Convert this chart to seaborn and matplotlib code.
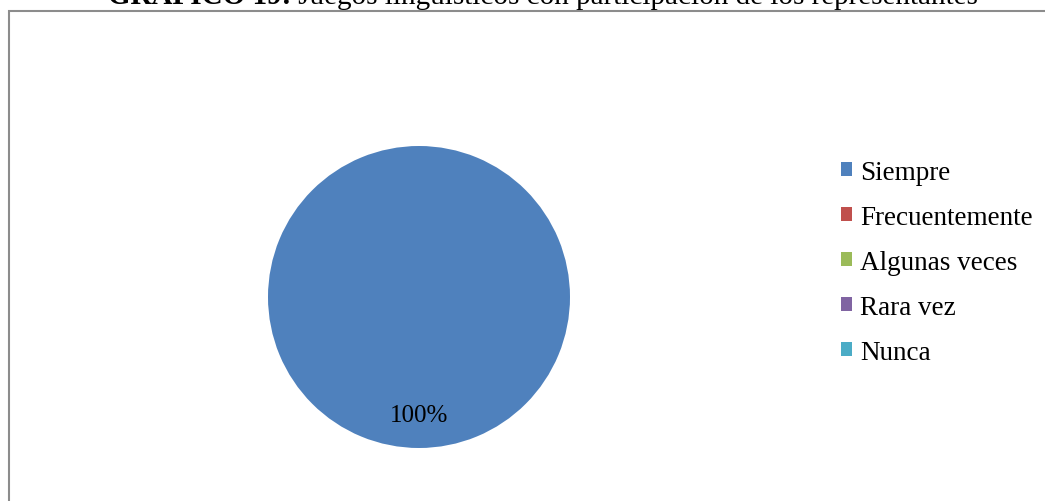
import matplotlib
matplotlib.use('Agg')
import matplotlib.pyplot as plt
import matplotlib.patches as mpatches
import seaborn as sns

# Data
categories = ['Siempre', 'Frecuentemente', 'Algunas veces', 'Rara vez', 'Nunca']
values = [100, 0, 0, 0, 0]
colors = ['#4F81BD', '#C0504D', '#9BBB59', '#8064A2', '#4BACC6']

sns.set_theme(style='white')
plt.rcParams['font.family'] = ['Liberation Serif', 'DejaVu Serif']
plt.rcParams['text.color'] = 'black'

fig = plt.figure(figsize=(10.45, 5.02), dpi=100)

# Chart border (cut off at right/bottom in the original)
border = mpatches.Rectangle((9 / 1045, -0.05), 1.1, (502 - 12) / 502 + 0.05,
                            transform=fig.transFigure, fill=False,
                            edgecolor='#8c8c8c', linewidth=1.5)
fig.patches.append(border)

# Pie
ax = fig.add_axes([(419 - 151) / 1045, (502 - 298 - 151) / 502, 302 / 1045, 302 / 502])


def fmt(p):
    return f'{p:.0f}%' if p > 0 else ''


wedges, texts, autotexts = ax.pie(values, colors=colors, startangle=90, counterclock=False,
                                  autopct=fmt, pctdistance=0.78,
                                  wedgeprops=dict(linewidth=0),
                                  textprops=dict(fontsize=18, color='black'))
ax.set_xlim(-1, 1)
ax.set_ylim(-1, 1)
ax.set_aspect('equal')

# Legend
handles = [mpatches.Patch(facecolor=c, edgecolor='none', label=l) for c, l in zip(colors, categories)]
fig.legend(handles=handles, loc='upper left', bbox_to_anchor=(841 / 1045, 1 - 161 / 502),
           frameon=False, fontsize=19.5, handlelength=0.42, handleheight=0.42,
           handletextpad=0.3, labelspacing=0.735, borderaxespad=0, borderpad=0,
           labelcolor='black')

# Title: bold prefix + regular remainder, partly cut off at the top
fig.canvas.draw()
renderer = fig.canvas.get_renderer()
t1 = fig.text(0, 0, 'GRÁFICO 19:', fontsize=21, fontweight='bold')
t2 = fig.text(0, 0, ' Juegos lingüísticos con participación de los representantes', fontsize=21)
w1 = t1.get_window_extent(renderer).width
w2 = t2.get_window_extent(renderer).width
x0 = 543 - (w1 + w2) / 2
ybase = 1 - 4 / 502
t1.set_position((x0 / 1045, ybase))
t2.set_position(((x0 + w1) / 1045, ybase))

fig.savefig('out.png', dpi=100)
